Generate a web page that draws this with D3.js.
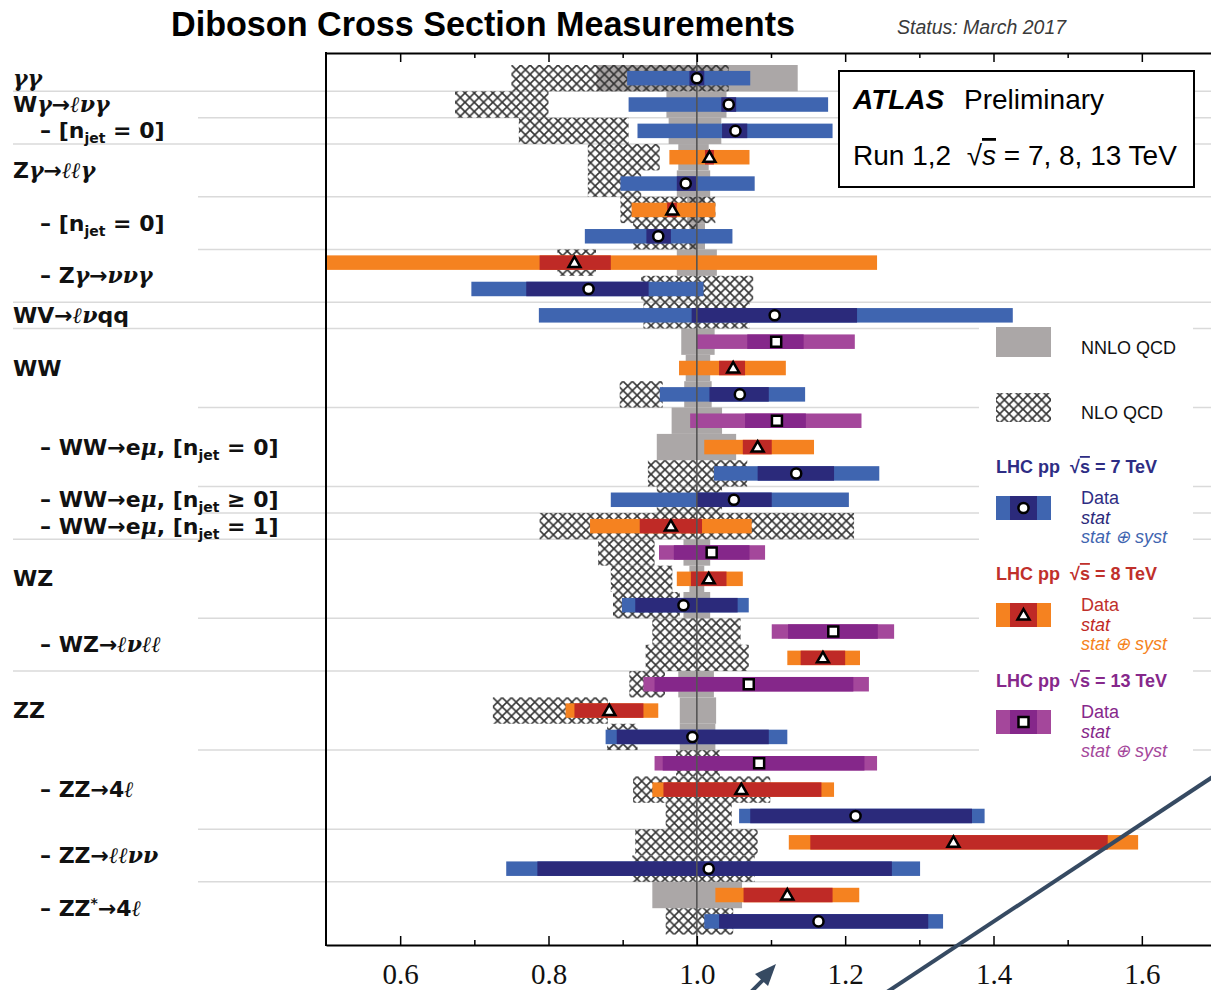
<!DOCTYPE html>
<html>
<head>
<meta charset="utf-8">
<script src="https://cdn.jsdelivr.net/npm/d3@7"></script>
<style>
  body { margin: 0; background: #fff; }
</style>
</head>
<body>
<div id="chart"></div>
<script>

// one entry per measurement row, top to bottom
var energy  = [7, 7, 7, 8, 7, 8, 7, 8, 7, 7, 13, 8, 7, 13, 8, 7, 7, 8, 13, 8, 7, 13, 8, 13, 8, 7, 13, 8, 7, 8, 7, 8, 7]
var central = [1.0, 1.043, 1.052, 1.017, 0.985, 0.967, 0.948, 0.835, 0.854, 1.105, 1.107, 1.049, 1.058, 1.108, 1.082, 1.134, 1.05,
               0.965, 1.02, 1.016, 0.982, 1.184, 1.17, 1.07, 0.882, 0.994, 1.084, 1.06, 1.214, 1.346, 1.016, 1.122, 1.164]
var statLo  = [0.99, 1.033, 1.034, 1.011, 0.973, 0.96, 0.932, 0.788, 0.77, 0.993, 1.068, 1.03, 1.017, 1.065, 1.062, 1.082, 0.999,
               0.923, 0.969, 0.992, 0.917, 1.123, 1.14, 0.943, 0.835, 0.892, 0.954, 0.955, 1.072, 1.153, 0.785, 1.063, 1.03]
var statHi  = [1.01, 1.053, 1.068, 1.023, 0.999, 0.973, 0.965, 0.884, 0.935, 1.216, 1.144, 1.065, 1.097, 1.147, 1.101, 1.185, 1.101,
               1.007, 1.071, 1.04, 1.055, 1.244, 1.2, 1.211, 0.928, 1.097, 1.226, 1.168, 1.371, 1.554, 1.263, 1.183, 1.312]
var totLo   = [0.906, 0.908, 0.92, 0.963, 0.897, 0.912, 0.849, 0.43, 0.696, 0.787, 0.999, 0.976, 0.95, 0.991, 1.01, 1.023, 0.884,
               0.856, 0.949, 0.973, 0.899, 1.101, 1.122, 0.928, 0.823, 0.877, 0.943, 0.94, 1.057, 1.124, 0.743, 1.025, 1.01]
var totHi   = [1.072, 1.177, 1.183, 1.071, 1.078, 1.025, 1.048, 1.243, 1.009, 1.426, 1.213, 1.12, 1.146, 1.222, 1.158, 1.246, 1.205,
               1.074, 1.092, 1.062, 1.07, 1.266, 1.22, 1.232, 0.948, 1.122, 1.243, 1.185, 1.388, 1.595, 1.301, 1.219, 1.332]

// theory predictions normalised to NNLO (null = not shown)
var nnloLo = [0.865, 0.959, 0.962, 0.975, 0.973, 0.987, 0.99, 0.973, null, null, 0.979, 0.985, 0.983, 0.966, 0.946, null, null,
              null, 0.982, 0.99, 0.982, null, null, 0.975, 0.977, 0.977, null, null, null, null, null, 0.94, null]
var nnloHi = [1.136, 1.04, 1.033, 1.016, 1.018, 1.011, 1.011, 1.027, null, null, 1.024, 1.018, 1.02, 1.034, 1.053, null, null,
              null, 1.018, 1.01, 1.018, null, null, 1.023, 1.026, 1.025, null, null, null, null, null, 1.061, null]
var nloLo  = [0.75, 0.674, 0.76, 0.853, 0.853, 0.897, 0.914, 0.812, 0.925, 0.928, null, null, 0.896, null, null, 0.934, 0.946,
              0.788, 0.867, 0.884, 0.887, 0.94, 0.931, 0.909, 0.725, 0.879, 0.972, 0.914, 0.958, 0.917, 0.913, null, 0.958]
var nloHi  = [1.043, 0.80, 0.908, 0.95, 0.925, 1.025, 1.0, 0.864, 1.076, 1.071, null, null, 0.954, null, null, 1.068, 1.034,
              1.212, 0.943, 0.967, 0.977, 1.059, 1.07, 0.957, 0.88, 0.92, 1.031, 1.099, 1.047, 1.082, 1.078, null, 1.049]

var majorTicks = [0.6, 0.8, 1.0, 1.2, 1.4, 1.6]
var minorTicks = [0.7, 0.9, 1.1, 1.3, 1.5]

// separator lines drawn below these rows
var groupSeps = [0, 2, 8, 9, 17, 22]
var subSeps = [1, 4, 6, 12, 15, 16, 20, 25, 28, 30]

// row labels: b = bold sans, i = italic math, sub / sup = small bold
var labelRows = [0, 1, 2, 3.5, 5.5, 7.5, 9, 11, 14, 16, 17, 19, 21.5, 24, 27, 29.5, 31.5]
var labelIndent = [0, 0, 1, 0, 1, 1, 0, 0, 1, 1, 1, 0, 1, 0, 1, 1, 1]
var labelParts = [
  [["γγ", "i"]],
  [["W", "b"], ["γ", "i"], ["→", "b"], ["ℓνγ", "i"]],
  [["– [n", "b"], ["jet", "sub"], [" = 0]", "b"]],
  [["Z", "b"], ["γ", "i"], ["→", "b"], ["ℓℓγ", "i"]],
  [["– [n", "b"], ["jet", "sub"], [" = 0]", "b"]],
  [["– Z", "b"], ["γ", "i"], ["→", "b"], ["ννγ", "i"]],
  [["WV→", "b"], ["ℓν", "i"], ["qq", "b"]],
  [["WW", "b"]],
  [["– WW→e", "b"], ["μ", "i"], [", [n", "b"], ["jet", "sub"], [" = 0]", "b"]],
  [["– WW→e", "b"], ["μ", "i"], [", [n", "b"], ["jet", "sub"], [" ≥ 0]", "b"]],
  [["– WW→e", "b"], ["μ", "i"], [", [n", "b"], ["jet", "sub"], [" = 1]", "b"]],
  [["WZ", "b"]],
  [["– WZ→", "b"], ["ℓνℓℓ", "i"]],
  [["ZZ", "b"]],
  [["– ZZ→4", "b"], ["ℓ", "i"]],
  [["– ZZ→", "b"], ["ℓℓνν", "i"]],
  [["– ZZ", "b"], ["*", "sup"], ["→4", "b"], ["ℓ", "i"]]
]

var energies = [7, 8, 13]
var outerColor = d3.scaleOrdinal().domain(energies).range(["#3f65b0", "#f58220", "#a4479b"])
var innerColor = d3.scaleOrdinal().domain(energies).range(["#2b2a7b", "#bf2a26", "#85278a"])
var titleColor = d3.scaleOrdinal().domain(energies).range(["#2e2d84", "#c0302b", "#86288b"])
var shape = d3.scaleOrdinal().domain(energies).range([d3.symbolCircle, d3.symbolTriangle, d3.symbolSquare])
var shapeSize = d3.scaleOrdinal().domain(energies).range([80, 62, 100])

var plotTop = 53, plotBottom = 945, plotLeft = 326
var barH = 14.5

var svg = d3.select("#chart").append("svg")
  .attr("width", 1211)
  .attr("height", 990)
  .style("font-family", "'Liberation Sans', Arial, sans-serif")

var defs = svg.append("defs")
var hatch = defs.append("pattern")
  .attr("id", "hatch")
  .attr("patternUnits", "userSpaceOnUse")
  .attr("width", 9.3)
  .attr("height", 9.3)
hatch.append("path")
  .attr("d", "M0,0L9.3,9.3M9.3,0L0,9.3")
  .attr("stroke", "#333")
  .attr("stroke-width", 1.6)

defs.append("clipPath").attr("id", "plotclip")
  .append("rect")
  .attr("x", plotLeft).attr("y", plotTop)
  .attr("width", 900).attr("height", plotBottom - plotTop)

var x = d3.scaleLinear()
  .domain([0.5, 1.7])
  .range([plotLeft, 1216])

var rows = d3.range(energy.length)
var y = d3.scaleBand()
  .domain(rows)
  .range([65, 934.55])

var yc = i => y(Math.floor(i)) + (i - Math.floor(i)) * y.bandwidth() + y.bandwidth() / 2

// title
svg.append("text")
  .attr("x", 171).attr("y", 36)
  .attr("font-size", 35)
  .attr("font-weight", 700)
  .attr("textLength", 624)
  .attr("lengthAdjust", "spacingAndGlyphs")
  .text("Diboson Cross Section Measurements")

svg.append("text")
  .attr("x", 897).attr("y", 34)
  .attr("font-size", 19.5)
  .attr("font-style", "italic")
  .attr("fill", "#3a3a3a")
  .text("Status: March 2017")

// separators
svg.selectAll(".gsep")
  .data(groupSeps)
  .enter().append("line")
  .attr("x1", 13).attr("x2", 1211)
  .attr("y1", d => y(d) + y.bandwidth()).attr("y2", d => y(d) + y.bandwidth())
  .attr("stroke", "#dadada").attr("stroke-width", 1.5)

svg.selectAll(".ssep")
  .data(subSeps)
  .enter().append("line")
  .attr("x1", 198).attr("x2", 1211)
  .attr("y1", d => y(d) + y.bandwidth()).attr("y2", d => y(d) + y.bandwidth())
  .attr("stroke", "#dadada").attr("stroke-width", 1.5)

// labels
var lab = svg.selectAll(".lab")
  .data(labelParts)
  .enter().append("text")
  .attr("x", (d, i) => labelIndent[i] ? 40 : 13)
  .attr("y", (d, i) => yc(labelRows[i]) + 7.5)
  .attr("font-size", 22)
  .attr("fill", "#111")
  .style("white-space", "pre")

lab.each(function (parts) {
  var t = d3.select(this)
  var shift = 0
  parts.forEach(function (p) {
    var s = t.append("tspan").text(p[0])
    var dy = 0
    if (p[1] == "b") {
      s.attr("font-family", "'DejaVu Sans', sans-serif").attr("font-weight", 700)
    } else if (p[1] == "i") {
      s.attr("font-family", "'DejaVu Serif', serif").attr("font-style", "italic").attr("font-weight", 700)
    } else if (p[1] == "sub") {
      s.attr("font-family", "'DejaVu Sans', sans-serif").attr("font-weight", 700).attr("font-size", 14)
      dy = 5
    } else if (p[1] == "sup") {
      s.attr("font-family", "'DejaVu Sans', sans-serif").attr("font-weight", 700).attr("font-size", 14)
      dy = -8
    }
    s.attr("dy", dy - shift)
    shift = dy
  })
})

var plot = svg.append("g").attr("clip-path", "url(#plotclip)")

// NNLO bands
plot.selectAll(".nnlo")
  .data(rows.filter(i => nnloLo[i] != null))
  .enter().append("rect")
  .attr("x", i => x(nnloLo[i]))
  .attr("width", i => x(nnloHi[i]) - x(nnloLo[i]))
  .attr("y", i => y(i))
  .attr("height", y.bandwidth())
  .attr("fill", "#aba7a7")

// NLO bands
plot.selectAll(".nlo")
  .data(rows.filter(i => nloLo[i] != null))
  .enter().append("rect")
  .attr("x", i => x(nloLo[i]))
  .attr("width", i => x(nloHi[i]) - x(nloLo[i]))
  .attr("y", i => y(i))
  .attr("height", y.bandwidth())
  .attr("fill", "url(#hatch)")

// total uncertainty
plot.selectAll(".tot")
  .data(rows)
  .enter().append("rect")
  .attr("x", i => x(totLo[i]))
  .attr("width", i => x(totHi[i]) - x(totLo[i]))
  .attr("y", i => yc(i) - barH / 2)
  .attr("height", barH)
  .attr("fill", i => outerColor(energy[i]))

// stat uncertainty
plot.selectAll(".stat")
  .data(rows)
  .enter().append("rect")
  .attr("x", i => x(statLo[i]))
  .attr("width", i => x(statHi[i]) - x(statLo[i]))
  .attr("y", i => yc(i) - barH / 2)
  .attr("height", barH)
  .attr("fill", i => innerColor(energy[i]))

// SM = 1 line
plot.append("line")
  .attr("x1", x(1)).attr("x2", x(1))
  .attr("y1", plotTop).attr("y2", plotBottom)
  .attr("stroke", "#555").attr("stroke-width", 1.6)

// central values
plot.selectAll(".mk")
  .data(rows)
  .enter().append("path")
  .attr("d", i => d3.symbol().type(shape(energy[i])).size(shapeSize(energy[i]))())
  .attr("transform", i => "translate(" + x(central[i]) + "," + (yc(i) + (energy[i] == 8 ? 1 : 0)) + ")")
  .attr("fill", "#fff")
  .attr("stroke", "#000")
  .attr("stroke-width", 2.5)

// axes
var axisG = svg.append("g")
axisG.append("g")
  .attr("transform", "translate(0," + plotBottom + ")")
  .call(d3.axisBottom(x).tickValues(majorTicks).tickSizeInner(-9).tickSizeOuter(0).tickPadding(18).tickFormat(d3.format(".1f")))
  .call(g => g.select(".domain").attr("stroke-width", 2))
  .call(g => g.selectAll(".tick line").attr("stroke-width", 1.5))
  .call(g => g.selectAll("text").attr("font-size", 29).attr("font-family", "'Liberation Serif', serif").attr("fill", "#111"))
axisG.append("g")
  .attr("transform", "translate(0," + plotBottom + ")")
  .call(d3.axisBottom(x).tickValues(minorTicks).tickSizeInner(-5).tickSizeOuter(0).tickFormat(""))
  .call(g => g.select(".domain").remove())
  .call(g => g.selectAll(".tick line").attr("stroke-width", 1.5))
axisG.append("g")
  .attr("transform", "translate(0," + plotTop + ")")
  .call(d3.axisTop(x).tickValues(majorTicks).tickSizeInner(-9).tickSizeOuter(0).tickFormat(""))
  .call(g => g.select(".domain").attr("stroke-width", 2))
  .call(g => g.selectAll(".tick line").attr("stroke-width", 1.5))
axisG.append("g")
  .attr("transform", "translate(0," + plotTop + ")")
  .call(d3.axisTop(x).tickValues(minorTicks).tickSizeInner(-5).tickSizeOuter(0).tickFormat(""))
  .call(g => g.select(".domain").remove())
  .call(g => g.selectAll(".tick line").attr("stroke-width", 1.5))
axisG.append("line")
  .attr("x1", plotLeft).attr("x2", plotLeft)
  .attr("y1", plotTop - 1).attr("y2", plotBottom + 1)
  .attr("stroke", "#000").attr("stroke-width", 2)

// ATLAS box
svg.append("rect")
  .attr("x", 839).attr("y", 71).attr("width", 355).attr("height", 116)
  .attr("fill", "#fff").attr("stroke", "#000").attr("stroke-width", 2)
svg.append("text")
  .attr("x", 853).attr("y", 109).attr("font-size", 28)
  .attr("font-weight", 700).attr("font-style", "italic")
  .text("ATLAS")
svg.append("text")
  .attr("x", 964).attr("y", 109).attr("font-size", 28)
  .text("Preliminary")
var run = svg.append("text")
  .attr("x", 853).attr("y", 165).attr("font-size", 28)
  .style("white-space", "pre")
run.append("tspan").text("Run 1,2  √")
run.append("tspan").text("s").attr("font-style", "italic").style("text-decoration", "overline")
run.append("tspan").text(" = 7, 8, 13 TeV")

// legend
var leg = svg.append("g")
leg.append("rect")
  .attr("x", 979).attr("y", 323).attr("width", 214).attr("height", 446)
  .attr("fill", "#fff")
leg.append("rect")
  .attr("x", 996).attr("y", 327).attr("width", 55).attr("height", 30)
  .attr("fill", "#aba7a7")
leg.append("text")
  .attr("x", 1081).attr("y", 354).attr("font-size", 18).attr("fill", "#111")
  .text("NNLO QCD")
leg.append("rect")
  .attr("x", 996).attr("y", 393).attr("width", 55).attr("height", 29)
  .attr("fill", "url(#hatch)")
leg.append("text")
  .attr("x", 1081).attr("y", 419).attr("font-size", 18).attr("fill", "#111")
  .text("NLO QCD")

var legTop = d3.scaleOrdinal().domain(energies).range([473, 580, 687])
var legE = leg.selectAll(".le")
  .data(energies)
  .enter().append("g")
  .attr("transform", d => "translate(0," + legTop(d) + ")")

var head = legE.append("text")
  .attr("x", 996).attr("y", 0)
  .attr("font-size", 18).attr("font-weight", 700)
  .attr("fill", d => titleColor(d))
  .style("white-space", "pre")
head.append("tspan").text("LHC pp  √")
head.append("tspan").text("s").style("text-decoration", "overline")
head.append("tspan").text(d => " = " + d + " TeV")

legE.append("rect")
  .attr("x", 996).attr("y", 23).attr("width", 55).attr("height", 24)
  .attr("fill", d => outerColor(d))
legE.append("rect")
  .attr("x", 1010).attr("y", 23).attr("width", 27).attr("height", 24)
  .attr("fill", d => innerColor(d))
legE.append("path")
  .attr("d", d => d3.symbol().type(shape(d)).size(shapeSize(d))())
  .attr("transform", d => "translate(1023.5," + (35 + (d == 8 ? 1 : 0)) + ")")
  .attr("fill", "#fff").attr("stroke", "#000").attr("stroke-width", 2.5)

legE.append("text")
  .attr("x", 1081).attr("y", 31).attr("font-size", 18)
  .attr("fill", d => titleColor(d))
  .text("Data")
legE.append("text")
  .attr("x", 1081).attr("y", 51).attr("font-size", 18).attr("font-style", "italic")
  .attr("fill", d => innerColor(d))
  .text("stat")
legE.append("text")
  .attr("x", 1081).attr("y", 70).attr("font-size", 18).attr("font-style", "italic")
  .attr("fill", d => outerColor(d))
  .text("stat ⊕ syst")

// annotation line and arrow that overlay the picture
svg.append("line")
  .attr("x1", 887).attr("y1", 992).attr("x2", 1214).attr("y2", 776)
  .attr("stroke", "#364a62").attr("stroke-width", 4)
svg.append("line")
  .attr("x1", 748).attr("y1", 995).attr("x2", 768).attr("y2", 975)
  .attr("stroke", "#364a62").attr("stroke-width", 4)
svg.append("path")
  .attr("d", "M776,964L755,974L768,986Z")
  .attr("fill", "#364a62")

</script>
</body>
</html>
